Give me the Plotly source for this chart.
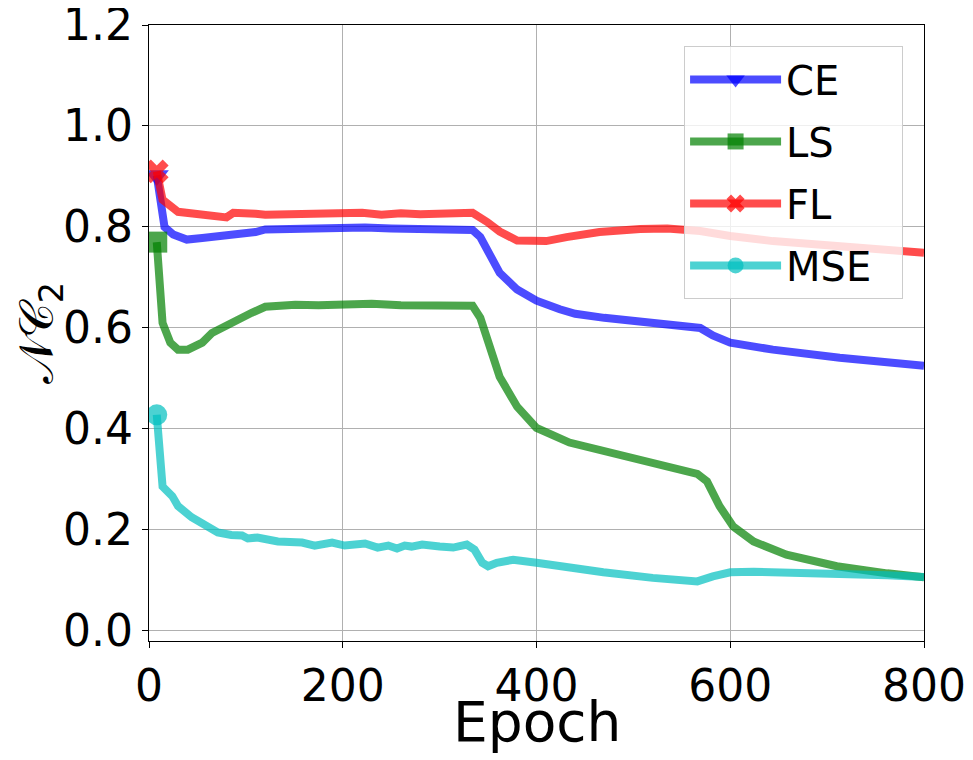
import plotly.graph_objects as go

# ---- data ----
ce_epoch = [8, 16, 25, 39, 55, 68, 85, 99, 110, 120, 140, 156, 175, 197, 223, 250, 280, 310, 334,
            342, 349, 362, 380, 400, 424, 440, 470, 500, 540, 569, 582, 600, 644, 713, 800]
ce_val = [0.902, 0.800, 0.785, 0.775, 0.778, 0.781, 0.782, 0.785, 0.790, 0.795, 0.796, 0.797, 0.799,
          0.800, 0.799, 0.797, 0.797, 0.795, 0.794, 0.780, 0.755, 0.709, 0.676, 0.654, 0.637, 0.628,
          0.620, 0.613, 0.606, 0.600, 0.585, 0.571, 0.557, 0.541, 0.525]

ls_epoch = [8, 14, 22, 30, 40, 55, 65, 86, 106, 120, 151, 175, 202, 230, 260, 290, 320, 334,
            342, 349, 362, 380, 400, 434, 486, 538, 566, 576, 589, 603, 624, 658, 710, 762, 800]
ls_val = [0.770, 0.610, 0.571, 0.557, 0.557, 0.571, 0.590, 0.612, 0.630, 0.642, 0.646, 0.645, 0.648,
          0.648, 0.645, 0.646, 0.645, 0.644, 0.620, 0.577, 0.503, 0.444, 0.402, 0.373, 0.349, 0.325,
          0.311, 0.296, 0.247, 0.207, 0.177, 0.151, 0.128, 0.114, 0.106]

fl_epoch = [8, 14, 30, 47, 68, 80, 87, 99, 110, 120, 140, 160, 175, 200, 220, 240, 260, 280, 300,
            320, 334, 349, 362, 380, 397, 410, 431, 465, 507, 535, 569, 600, 644, 713, 800]
fl_val = [0.910, 0.854, 0.830, 0.826, 0.823, 0.819, 0.828, 0.825, 0.826, 0.824, 0.825, 0.826, 0.823,
          0.827, 0.828, 0.824, 0.827, 0.825, 0.826, 0.825, 0.828, 0.810, 0.791, 0.773, 0.771, 0.772,
          0.780, 0.790, 0.796, 0.797, 0.792, 0.782, 0.772, 0.762, 0.749]

mse_epoch = [8, 14, 24, 30, 44, 58, 71, 85, 96, 102, 112, 133, 158, 171, 189, 202, 223, 236, 247,
             256, 264, 271, 282, 300, 314, 328, 336, 344, 350, 359, 376, 400, 434, 469, 520, 566,
             582, 600, 624, 692, 762, 800]
mse_val = [0.428, 0.286, 0.267, 0.247, 0.225, 0.209, 0.195, 0.190, 0.189, 0.183, 0.185, 0.177, 0.175,
           0.169, 0.175, 0.169, 0.173, 0.165, 0.169, 0.163, 0.169, 0.167, 0.171, 0.167, 0.165, 0.171,
           0.161, 0.135, 0.128, 0.135, 0.141, 0.135, 0.125, 0.116, 0.105, 0.098, 0.108, 0.116, 0.117,
           0.115, 0.110, 0.107]

x_ticks = [0, 200, 400, 600, 800]
y_ticks = [0.0, 0.2, 0.4, 0.6, 0.8, 1.0, 1.2]

series = [
    ("CE", ce_epoch, ce_val, "rgba(0,0,255,0.7)", "triangle-down"),
    ("LS", ls_epoch, ls_val, "rgba(0,128,0,0.7)", "square"),
    ("FL", fl_epoch, fl_val, "rgba(255,0,0,0.7)", "x"),
    ("MSE", mse_epoch, mse_val, "rgba(0,191,191,0.7)", "circle"),
]

fig = go.Figure()
for name, xs, ys, col, sym in series:
    # the curve
    fig.add_trace(go.Scatter(
        x=xs, y=ys, name=name, mode="lines", showlegend=False, legendgroup=name,
        line=dict(color=col, width=8),
    ))
    # marker at the first point only
    fig.add_trace(go.Scatter(
        x=xs[:1], y=ys[:1], name=name, mode="markers", showlegend=False, legendgroup=name,
        marker=dict(symbol=sym, size=21, color=col, line=dict(width=0)),
    ))
    # legend entry (line + marker)
    fig.add_trace(go.Scatter(
        x=[None], y=[None], name=name + "\u00a0\u00a0", mode="lines+markers", legendgroup=name,
        line=dict(color=col, width=8),
        marker=dict(symbol=sym, size=16, color=col, line=dict(width=0)),
    ))

axis_common = dict(
    showline=True, linecolor="black", linewidth=1.3, mirror=True,
    ticks="outside", ticklen=6, tickcolor="black", tickwidth=1.3,
    showgrid=True, gridcolor="#b0b0b0", gridwidth=1, zeroline=False,
    automargin=False, ticklabeloverflow="allow",
    tickfont=dict(family="DejaVu Sans", size=44, color="black"),
)

fig.update_xaxes(range=[0, 800], tickvals=x_ticks, ticktext=[str(v) for v in x_ticks],
                 **axis_common)
fig.update_yaxes(range=[-0.02, 1.2], tickvals=y_ticks, ticktext=[f"{v:.1f}" for v in y_ticks],
                 title=dict(text="𝒩𝒞<sub>2</sub>",
                            font=dict(family="DejaVu Sans", size=48, color="black"), standoff=12),
                 **axis_common)

fig.add_annotation(text="Epoch", xref="paper", yref="paper", x=0.5, y=-0.132,
                   xanchor="center", yanchor="middle", showarrow=False,
                   font=dict(family="DejaVu Sans", size=55, color="black"))

fig.update_layout(
    width=965, height=752,
    margin=dict(l=141, r=49, t=17, b=119, autoexpand=False),
    plot_bgcolor="white", paper_bgcolor="white",
    showlegend=True,
    legend=dict(x=0.973, y=0.966, xanchor="right", yanchor="top",
                bgcolor="rgba(255,255,255,0.8)", bordercolor="#cccccc", borderwidth=1,
                font=dict(family="DejaVu Sans", size=40, color="black"),
                itemwidth=91, tracegroupgap=7),
)

fig.write_html("out.html")
